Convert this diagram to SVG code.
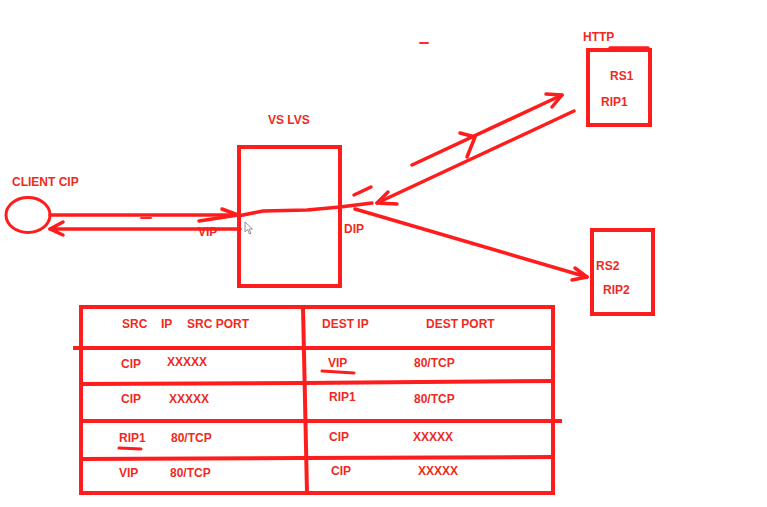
<svg xmlns="http://www.w3.org/2000/svg" width="767" height="507" viewBox="0 0 767 507">
  <style>
    .ln { fill: none; stroke: #ff1c1c; stroke-width: 3.5; stroke-linecap: round; stroke-linejoin: round; }
    .thin { fill: none; stroke: #ff1c1c; stroke-width: 3; stroke-linecap: round; stroke-linejoin: round; }
    .tick { fill: none; stroke: #ff2a2a; stroke-width: 2; stroke-linecap: round; }
    .box { fill: none; stroke: #ff1c1c; stroke-width: 4; }
    text { font-family: "Liberation Sans", Arial, sans-serif; font-weight: bold; font-size: 12px; fill: #ef2a1e; }
  </style>
  <rect width="767" height="507" fill="#ffffff"/>

  <!-- client -->
  <g id="client">
    <ellipse cx="28" cy="215" rx="22" ry="17.5" class="thin"/>
    <text x="12" y="186">CLIENT CIP</text>
  </g>

  <!-- load balancer -->
  <g id="lvs">
    <rect x="239" y="147" width="101" height="139" class="box"/>
    <text x="268" y="124">VS LVS</text>
    <text x="198" y="236">VIP</text>
    <text x="344" y="233">DIP</text>
  </g>

  <!-- real servers -->
  <g id="rs1">
    <rect x="588" y="50" width="62" height="75" class="box"/>
    <path d="M610 48 L648 48" class="ln"/>
    <text x="583" y="41">HTTP</text>
    <text x="610" y="80">RS1</text>
    <text x="601" y="106">RIP1</text>
  </g>
  <g id="rs2">
    <rect x="592" y="230" width="61" height="84" class="box"/>
    <text x="596" y="270">RS2</text>
    <text x="603" y="294">RIP2</text>
  </g>

  <!-- connectors -->
  <g id="connectors">
    <!-- client to VIP -->
    <path d="M50 215 L238 215" class="ln"/>
    <path d="M222 209 L238 215 L199 221" class="ln"/>
    <path d="M141 218 L151 218" class="tick"/>
    <!-- VIP back to client -->
    <path d="M240 229 L50 229" class="ln"/>
    <path d="M63 222 L50 229 L63 235" class="ln"/>
    <!-- through the director -->
    <path d="M238 216 L263 211 L307 210 L340 207 L372 203" class="ln"/>
    <path d="M354 195 L371 187" class="ln"/>
    <!-- DIP to RS1 -->
    <path d="M412 165 L562 95" class="ln"/>
    <path d="M546 94 L562 95 L552 107" class="ln"/>
    <path d="M460 133 L475 137 L467 157" class="ln"/>
    <!-- RS1 back to DIP -->
    <path d="M574 111 L377 203" class="ln"/>
    <path d="M388 192 L377 203 L397 204" class="ln"/>
    <!-- DIP to RS2 -->
    <path d="M355 209 L587 277" class="ln"/>
    <path d="M575 268 L587 277 L572 280" class="ln"/>
    <path d="M420 43 L428 43" class="tick"/>
  </g>

  <!-- pointer -->
  <g id="pointer">
    <path d="M245 222 L245 232 L247.5 229.5 L249.5 234 L251 233.3 L249 229 L252.5 229 Z" fill="#ffffff" stroke="#777" stroke-width="0.8"/>
  </g>

  <!-- packet table -->
  <g id="table">
    <rect x="81" y="307" width="472" height="186" class="box"/>
    <path d="M303 307 L307 493" class="box"/>
    <path d="M73 348 L553 348" class="box"/>
    <path d="M81 384 L303 383 L553 381" class="box"/>
    <path d="M81 421 L562 421" class="box"/>
    <path d="M81 459 L303 458 L553 457" class="box"/>

    <text x="122" y="328">SRC</text>
    <text x="161" y="328">IP</text>
    <text x="187" y="328">SRC PORT</text>
    <text x="322" y="328">DEST IP</text>
    <text x="426" y="328">DEST PORT</text>

    <text x="121" y="368">CIP</text>
    <text x="167" y="366">XXXXX</text>
    <text x="328" y="367">VIP</text>
    <text x="414" y="367">80/TCP</text>
    <path d="M322 371 L354 373" class="thin"/>

    <text x="121" y="403">CIP</text>
    <text x="169" y="403">XXXXX</text>
    <text x="329" y="401">RIP1</text>
    <text x="414" y="403">80/TCP</text>

    <text x="119" y="442">RIP1</text>
    <text x="171" y="442">80/TCP</text>
    <path d="M119 448 L141 449" class="thin"/>
    <text x="329" y="441">CIP</text>
    <text x="413" y="441">XXXXX</text>

    <text x="119" y="477">VIP</text>
    <text x="170" y="477">80/TCP</text>
    <text x="331" y="475">CIP</text>
    <text x="418" y="475">XXXXX</text>
  </g>
</svg>
